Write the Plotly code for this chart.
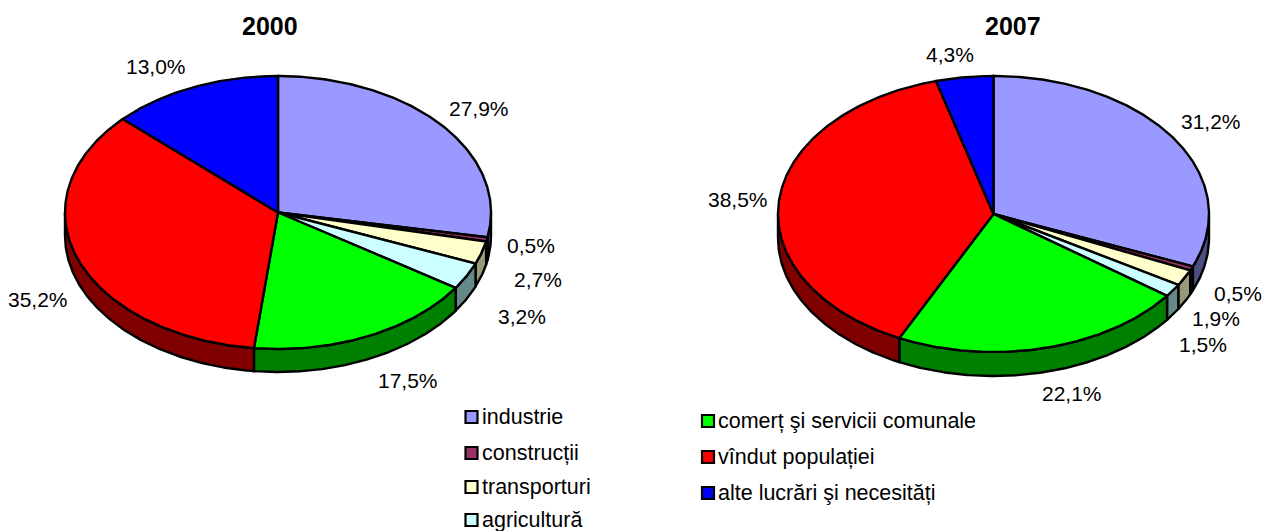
import numpy as np
import plotly.graph_objects as go

categories = ["industrie", "construcții", "transporturi", "agricultură",
              "comerț şi servicii comunale", "vîndut populației", "alte lucrări şi necesități"]
values_2000 = [27.9, 0.5, 2.7, 3.2, 17.5, 35.2, 13.0]
values_2007 = [31.2, 0.5, 1.9, 1.5, 22.1, 38.5, 4.3]
top_colors = ["#9999FF", "#993366", "#FFFFCC", "#CCFFFF", "#00FF00", "#FF0000", "#0000FF"]
side_colors = ["#4D4D80", "#4D1A33", "#999977", "#668888", "#008000", "#800000", "#000080"]

FONT = "Liberation Sans, Arial, sans-serif"
LW = 2.4

pies = [
    dict(title="2000", values=values_2000, cx=278, cy=212.5, rx=213, ry=136.5, depth=23, tx=270,
         labels=[(479, 108), (531, 245), (538, 279), (522, 316), (408, 380), (38, 299), (156, 66)]),
    dict(title="2007", values=values_2007, cx=993.5, cy=214, rx=215.5, ry=138, depth=24, tx=1013,
         labels=[(1211, 121), (1238, 293), (1216, 318), (1203, 344), (1072, 393), (738, 199), (950, 54)]),
]
legend_pos = [(471.5, 417), (471.5, 453), (471.5, 487), (471.5, 520), (708, 421), (708, 457), (708, 493)]

fig = go.Figure()
annotations = []


def arc(p, a, b, off=0.0):
    n = max(2, int(abs(b - a) * 2) + 2)
    t = np.radians(np.linspace(a, b, n))
    return p["cx"] + p["rx"] * np.sin(t), p["cy"] - p["ry"] * np.cos(t) + off


def poly(x, y, color, name):
    fig.add_trace(go.Scatter(
        x=list(x), y=list(y), mode="lines", fill="toself", fillcolor=color, name=name,
        line=dict(color="#000000", width=LW, shape="linear"), hoverinfo="name", showlegend=False))


for p in pies:
    edges = np.concatenate([[0.0], np.cumsum(p["values"])]) * 3.6
    # front wall of the cylinder
    for i, cat in enumerate(categories):
        a, b = max(edges[i], 90.0), min(edges[i + 1], 270.0)
        if b > a:
            x1, y1 = arc(p, a, b)
            x2, y2 = arc(p, b, a, p["depth"])
            poly(np.r_[x1, x2, x1[0]], np.r_[y1, y2, y1[0]], side_colors[i], cat)
    # top face
    for i, cat in enumerate(categories):
        x1, y1 = arc(p, edges[i], edges[i + 1])
        poly(np.r_[p["cx"], x1, p["cx"]], np.r_[p["cy"], y1, p["cy"]], top_colors[i], cat)
    annotations.append(dict(x=p["tx"], y=26, text=f"<b>{p['title']}</b>", showarrow=False,
                            font=dict(size=25, family=FONT, color="#000000")))
    for v, (lx, ly) in zip(p["values"], p["labels"]):
        annotations.append(dict(x=lx, y=ly, text=f"{v:.1f}%".replace(".", ","), showarrow=False,
                                font=dict(size=21, family=FONT, color="#000000")))

for cat, col, (lx, ly) in zip(categories, top_colors, legend_pos):
    fig.add_trace(go.Scatter(
        x=[lx], y=[ly], mode="markers", name=cat, showlegend=False,
        marker=dict(symbol="square", size=12, color=col, line=dict(color="#000000", width=2.2))))
    annotations.append(dict(x=lx + 8, y=ly, text=cat, showarrow=False, xanchor="left",
                            font=dict(size=21.5, family=FONT, color="#000000")))

fig.update_layout(
    width=1269, height=531, autosize=False,
    margin=dict(l=0, r=0, t=0, b=0),
    paper_bgcolor="#FFFFFF", plot_bgcolor="#FFFFFF",
    xaxis=dict(range=[0, 1269], visible=False, fixedrange=True),
    yaxis=dict(range=[531, 0], visible=False, fixedrange=True),
    annotations=annotations, showlegend=False,
)
fig.write_html("out.html", config=dict(displayModeBar=False),
               post_script="document.body.style.margin='0';document.documentElement.style.overflow='hidden';")
